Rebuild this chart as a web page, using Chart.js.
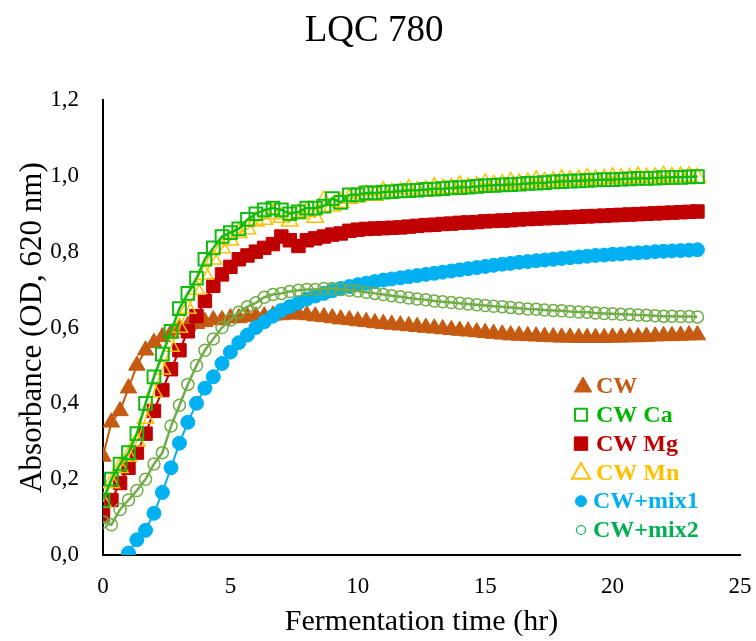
<!DOCTYPE html>
<html><head><meta charset="utf-8">
<script src="https://cdn.jsdelivr.net/npm/chart.js@4.4.1/dist/chart.umd.min.js"></script>
<style>html,body{margin:0;padding:0;background:#fff;}#wrap{width:756px;height:641px;}</style>
</head><body><div id="wrap"><canvas id="c" width="756" height="641"></canvas></div>
<script>
// ---------- DATA (fermentation time in hours, absorbance OD 620 nm) ----------
const timeHr = [0,0.33,0.67,1,1.33,1.67,2,2.33,2.67,3,3.33,3.67,4,4.33,4.67,5,5.33,5.67,6,6.33,6.67,7,7.33,7.67,8,8.33,8.67,9,9.33,9.67,10,10.33,10.67,11,11.33,11.67,12,12.33,12.67,13,13.33,13.67,14,14.33,14.67,15,15.33,15.67,16,16.33,16.67,17,17.33,17.67,18,18.33,18.67,19,19.33,19.67,20,20.33,20.67,21,21.33,21.67,22,22.33,22.67,23,23.33];

const seriesNames = ['CW','CW Ca','CW Mg','CW Mn','CW+mix1','CW+mix2'];

const cw = [0.26,0.35,0.38,0.44,0.50,0.54,0.56,0.575,0.585,0.595,0.605,0.61,0.615,0.62,0.62,0.625,0.625,0.628,0.63,0.63,0.632,0.633,0.635,0.635,0.633,0.63,0.628,0.625,0.622,0.62,0.617,0.615,0.612,0.61,0.608,0.606,0.604,0.602,0.60,0.598,0.596,0.594,0.592,0.59,0.588,0.586,0.584,0.582,0.58,0.579,0.578,0.577,0.576,0.575,0.574,0.574,0.573,0.573,0.573,0.573,0.574,0.574,0.575,0.575,0.576,0.577,0.578,0.578,0.579,0.58,0.58];

const cwCa = [0.145,0.20,0.24,0.27,0.32,0.40,0.47,0.53,0.59,0.65,0.69,0.73,0.78,0.81,0.84,0.85,0.86,0.885,0.90,0.91,0.915,0.91,0.90,0.905,0.915,0.915,0.92,0.94,0.93,0.95,0.95,0.955,0.955,0.957,0.958,0.96,0.961,0.962,0.964,0.965,0.966,0.968,0.969,0.97,0.972,0.974,0.975,0.976,0.977,0.978,0.98,0.981,0.982,0.984,0.985,0.986,0.987,0.988,0.989,0.99,0.99,0.991,0.992,0.993,0.993,0.994,0.995,0.996,0.996,0.997,0.998];

const cwMg = [0.105,0.145,0.19,0.23,0.27,0.32,0.38,0.435,0.49,0.54,0.59,0.63,0.67,0.71,0.74,0.76,0.78,0.79,0.80,0.81,0.82,0.84,0.83,0.815,0.83,0.835,0.84,0.845,0.848,0.855,0.858,0.86,0.861,0.862,0.863,0.864,0.866,0.868,0.87,0.871,0.873,0.874,0.876,0.877,0.878,0.88,0.881,0.882,0.883,0.885,0.886,0.887,0.888,0.889,0.89,0.891,0.892,0.893,0.894,0.895,0.896,0.897,0.898,0.899,0.90,0.901,0.902,0.903,0.904,0.905,0.906];

const cwMn = [0.14,0.19,0.23,0.26,0.30,0.36,0.43,0.49,0.55,0.60,0.65,0.70,0.74,0.78,0.81,0.83,0.85,0.86,0.88,0.885,0.90,0.89,0.88,0.90,0.905,0.89,0.935,0.92,0.93,0.94,0.945,0.95,0.948,0.96,0.955,0.957,0.965,0.96,0.962,0.97,0.966,0.968,0.975,0.97,0.973,0.98,0.976,0.978,0.984,0.98,0.982,0.988,0.984,0.986,0.991,0.988,0.99,0.994,0.99,0.992,0.996,0.993,0.994,0.998,0.995,0.996,1.0,0.997,0.998,0.999,0.995];

const cwMix1 = [null,null,null,0.005,0.04,0.065,0.11,0.165,0.23,0.295,0.35,0.40,0.44,0.47,0.505,0.535,0.56,0.58,0.60,0.615,0.63,0.645,0.655,0.665,0.675,0.683,0.69,0.697,0.703,0.708,0.713,0.717,0.721,0.725,0.728,0.731,0.734,0.737,0.74,0.743,0.746,0.749,0.752,0.755,0.758,0.761,0.764,0.767,0.769,0.772,0.774,0.776,0.778,0.78,0.782,0.784,0.786,0.788,0.79,0.791,0.793,0.794,0.796,0.797,0.798,0.80,0.801,0.802,0.803,0.804,0.805];

const cwMix2 = [0.087,0.08,0.12,0.145,0.17,0.20,0.24,0.27,0.34,0.395,0.45,0.50,0.54,0.57,0.60,0.62,0.64,0.655,0.665,0.68,0.687,0.69,0.695,0.698,0.70,0.70,0.703,0.703,0.70,0.698,0.696,0.693,0.69,0.687,0.684,0.681,0.678,0.675,0.673,0.67,0.668,0.666,0.664,0.662,0.66,0.658,0.656,0.655,0.653,0.651,0.649,0.648,0.646,0.645,0.644,0.642,0.641,0.64,0.638,0.637,0.636,0.635,0.634,0.633,0.632,0.631,0.63,0.63,0.629,0.629,0.628];

const xTicks = [0,5,10,15,20,25];
const yTicks = [0,0.2,0.4,0.6,0.8,1.0,1.2];

// ---------- STYLE ----------
const SERIF = "'Liberation Serif','Times New Roman',serif";
const toPts = arr => timeHr.map((t,i)=>({x:t,y:arr[i]})).filter(p=>p.y!==null);

const styles = [
  {color:'#C55A11', text:'#C55A11', style:'triangle', r:9.5, fill:'#C55A11', bw:1,   lw:2,   order:5},
  {color:'#11BB11', text:'#00B800', style:'rect',     r:9,   fill:'rgba(0,0,0,0)', bw:2, lw:2.5, order:1},
  {color:'#C00000', text:'#C00000', style:'rect',     r:9.5, fill:'#C00000', bw:1,   lw:2,   order:4},
  {color:'#FFC000', text:'#FFC000', style:'triangle', r:9.5, fill:'rgba(0,0,0,0)', bw:1.5, lw:1.5, order:3},
  {color:'#00B0F0', text:'#00B0F0', style:'circle',   r:7,   fill:'#00B0F0', bw:1,   lw:2,   order:2},
  {color:'#70AD47', text:'#00B050', style:'circle',   r:6,   fill:'rgba(0,0,0,0)', bw:1.5, lw:2.5, order:0}
];
const seriesData = [cw, cwCa, cwMg, cwMn, cwMix1, cwMix2];

const datasets = seriesData.map((arr,k)=>{
  const s = styles[k];
  return {
    label: seriesNames[k],
    data: toPts(arr),
    showLine: true,
    borderColor: s.color,
    backgroundColor: s.fill,
    borderWidth: s.lw,
    pointStyle: s.style,
    pointRadius: s.r,
    pointBorderColor: s.color,
    pointBackgroundColor: s.fill,
    pointBorderWidth: s.bw,
    order: s.order,
    tension: 0
  };
});

const legendSpec = [
  {mr:10,  mfill:'#C55A11', mstroke:'#C55A11', mbw:1},
  {mr:8.5, mfill:'rgba(0,0,0,0)', mstroke:'#11BB11', mbw:2},
  {mr:9.5, mfill:'#C00000', mstroke:'#C00000', mbw:1},
  {mr:10.5,mfill:'rgba(0,0,0,0)', mstroke:'#FFC000', mbw:2},
  {mr:5.5, mfill:'#00B0F0', mstroke:'#00B0F0', mbw:1},
  {mr:4.5, mfill:'rgba(0,0,0,0)', mstroke:'#00B050', mbw:1.2}
];

const legendPlugin = {
  id: 'insideLegend',
  afterDraw(chart) {
    const ctx = chart.ctx;
    ctx.save();
    ctx.font = 'bold 24px ' + SERIF;
    ctx.textBaseline = 'middle';
    ctx.textAlign = 'left';
    const y0 = 386, dy = 28.8, mx = 581, tx = 596;
    seriesNames.forEach((name,k)=>{
      const y = y0 + k*dy;
      const sp = legendSpec[k];
      ctx.fillStyle = sp.mfill;
      ctx.strokeStyle = sp.mstroke;
      ctx.lineWidth = sp.mbw;
      Chart.helpers.drawPoint(ctx, {pointStyle: styles[k].style, radius: sp.mr, rotation: 0, borderWidth: sp.mbw}, mx + (k===0?2:0), y + (styles[k].style==='triangle'?1:0));
      ctx.fillStyle = styles[k].text;
      ctx.fillText(name, tx + (k>=4?-3:0), y + 1);
    });
    ctx.restore();
  }
};

new Chart(document.getElementById('c'), {
  type: 'scatter',
  data: { datasets },
  plugins: [legendPlugin],
  options: {
    responsive: false,
    animation: false,
    layout: { autoPadding: false, padding: { left: 8, right: 16, top: 0, bottom: 0 } },
    plugins: {
      legend: { display: false },
      tooltip: { enabled: false },
      title: {
        display: true, text: 'LQC 780', color: '#000',
        font: { family: SERIF, size: 37, weight: 'normal', lineHeight: 1.2 },
        padding: { top: 9, bottom: 46.6 }
      }
    },
    scales: {
      x: {
        type: 'linear', min: 0, max: 25,
        afterBuildTicks: s => { s.ticks = xTicks.map(v=>({value:v})); },
        afterFit: s => { s.height = 86; s.paddingLeft = 0; s.paddingRight = 0; },
        ticks: { color: '#000', font: { family: SERIF, size: 23 }, padding: 10, maxRotation: 0 },
        grid: { display: false },
        border: { display: true, color: '#000', width: 2 },
        title: { display: true, text: 'Fermentation time (hr)', color: '#000',
                 font: { family: SERIF, size: 30 }, padding: { top: 0, bottom: 1 } }
      },
      y: {
        type: 'linear', min: 0, max: 1.2,
        afterBuildTicks: s => { s.ticks = yTicks.map(v=>({value:v})); },
        afterFit: s => { s.width = 95; },
        ticks: { color: '#000', font: { family: SERIF, size: 23 }, padding: 16,
                 callback: v => v.toFixed(1).replace('.', ',') },
        grid: { display: false },
        border: { display: true, color: '#000', width: 2 },
        title: { display: true, text: 'Absorbance (OD, 620 nm)', color: '#000',
                 font: { family: SERIF, size: 31 }, padding: { top: 6, bottom: 0 } }
      }
    }
  }
});
</script>
</body></html>
